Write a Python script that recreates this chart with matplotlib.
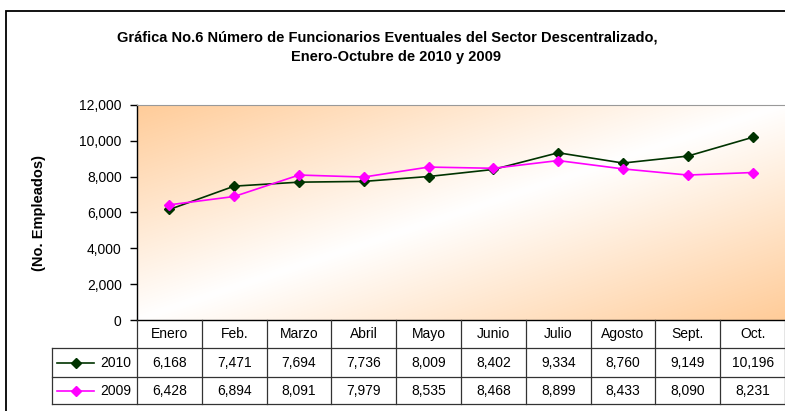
import numpy as np
import matplotlib
matplotlib.use("Agg")
import matplotlib.pyplot as plt
from matplotlib.lines import Line2D
from matplotlib.patches import Rectangle
from matplotlib import transforms

plt.rcParams['font.family'] = ['Liberation Sans', 'DejaVu Sans']

meses = ["Enero", "Feb.", "Marzo", "Abril", "Mayo", "Junio", "Julio",
         "Agosto", "Sept.", "Oct."]
serie_2010 = [6168, 7471, 7694, 7736, 8009, 8402, 9334, 8760, 9149, 10196]
serie_2009 = [6428, 6894, 8091, 7979, 8535, 8468, 8899, 8433, 8090, 8231]
anios = ["2010", "2009"]
colores = ["#003300", "#FF00FF"]
yticks = [0, 2000, 4000, 6000, 8000, 10000, 12000]

W, H = 785, 411
fig = plt.figure(figsize=(W / 100, H / 100), dpi=100)


def fx(px):
    return px / W


def fy(py):
    return 1 - py / H


# marco exterior
fig.add_artist(Rectangle((fx(6), -0.05), 1.2, fy(11) + 0.05, transform=fig.transFigure,
                         fill=False, edgecolor="black", linewidth=1.3))

ax = fig.add_axes([fx(137), fy(320), 1 - fx(137), fy(105) - fy(320)])

# fondo degradado naranja-blanco-naranja en diagonal
u = np.linspace(0, 1, 300)
v = np.linspace(0, 1, 150)
U, V = np.meshgrid(u, v)
w = np.abs(U + V - 1)
naranja = np.array([255, 204, 153]) / 255
img = (1 - w)[..., None] * np.ones(3) + w[..., None] * naranja
ax.imshow(img, extent=(-0.5, 9.5, 0, 12000), aspect="auto", zorder=0,
          interpolation="bilinear")

x = np.arange(len(meses))
for datos, color in zip([serie_2010, serie_2009], colores):
    ax.plot(x, datos, color=color, marker="D", markersize=5.5, linewidth=1.2, zorder=3)

ax.set_xlim(-0.5, 9.5)
ax.set_ylim(0, 12000)
ax.set_yticks(yticks)
ax.set_yticklabels([f"{t:,}" for t in yticks], fontsize=10)
ax.set_xticks([])
ax.tick_params(axis="y", direction="out", length=5, width=1, pad=6)
ax.spines["right"].set_visible(False)
ax.spines["top"].set_color("#999999")
ax.spines["left"].set_linewidth(1)
ax.spines["bottom"].set_linewidth(1)
ax.set_ylabel("(No. Empleados)", fontsize=10.5, fontweight="bold", labelpad=24)

# titulo en dos lineas
fig.text(fx(387), fy(37), "Gráfica No.6 Número de Funcionarios Eventuales del Sector Descentralizado,",
         ha="center", va="center", fontsize=10.5, fontweight="bold")
fig.text(fx(396), fy(57), "Enero-Octubre de 2010 y 2009",
         ha="center", va="center", fontsize=10.5, fontweight="bold")

# tabla de datos bajo el eje
tr = transforms.blended_transform_factory(ax.transData, fig.transFigure)
filas = [320, 348, 377, 404]
borde = "#333333"
for i in range(len(meses) + 1):
    xi = i - 0.5
    fig.add_artist(Line2D([xi, xi], [fy(320), fy(404)], transform=tr,
                          color=borde, linewidth=0.9))
for yy in filas[1:]:
    fig.add_artist(Line2D([fx(52), 1], [fy(yy), fy(yy)], transform=fig.transFigure,
                          color=borde, linewidth=0.9))
fig.add_artist(Line2D([fx(52), fx(52)], [fy(348), fy(404)], transform=fig.transFigure,
                      color=borde, linewidth=0.9))

for i, m in enumerate(meses):
    fig.text(i, fy(334), m, transform=tr, ha="center", va="center", fontsize=10)

for r, (anio, datos, color) in enumerate(zip(anios, [serie_2010, serie_2009], colores)):
    yc = fy((filas[r + 1] + filas[r + 2]) / 2)
    fig.add_artist(Line2D([fx(57), fx(94)], [yc, yc], transform=fig.transFigure,
                          color=color, linewidth=1.2))
    fig.add_artist(Line2D([fx(75.5)], [yc], transform=fig.transFigure, color=color,
                          marker="D", markersize=5.5))
    fig.text(fx(131), yc, anio, ha="right", va="center", fontsize=10)
    for i, val in enumerate(datos):
        fig.text(i, yc, f"{val:,}", transform=tr, ha="center", va="center", fontsize=10)

fig.savefig("out.png", dpi=100)
